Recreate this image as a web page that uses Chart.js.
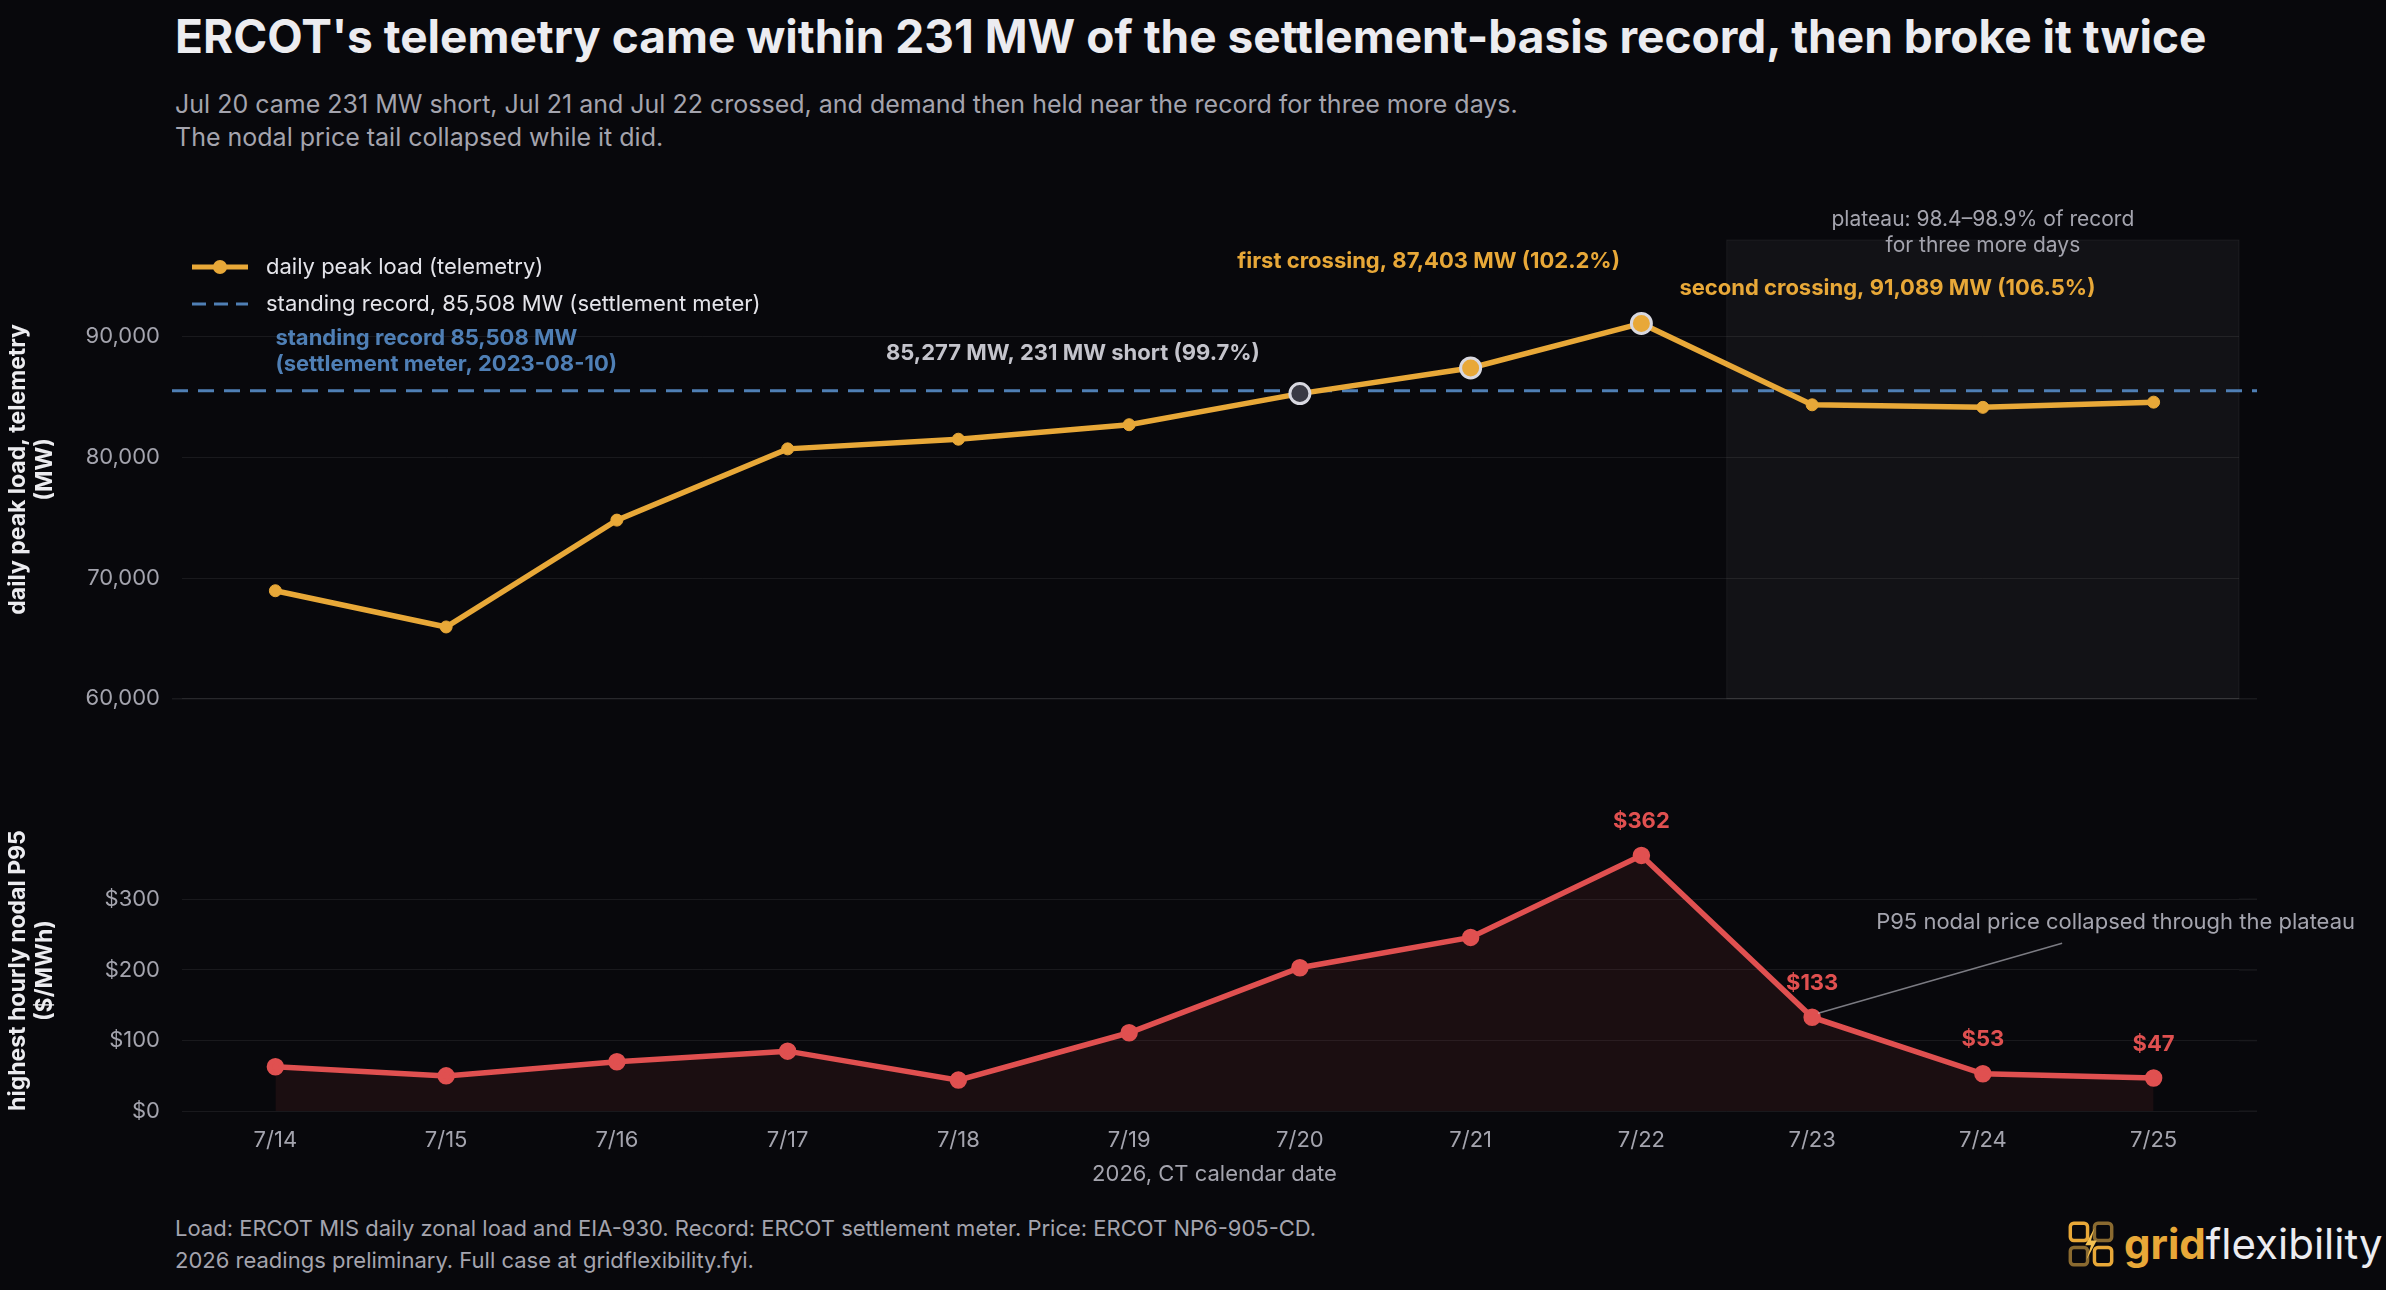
<!DOCTYPE html>
<html>
<head>
<meta charset="utf-8">
<script src="https://cdn.jsdelivr.net/npm/chart.js@4"></script>
<style>
  body { margin: 0; background: #08080c; width: 2386px; height: 1290px; overflow: hidden; font-family: Inter, sans-serif; }
  .abs { position: absolute; }
  #title { left: 175px; top: 8px; color: #ececf0; font-size: 46px; font-weight: 700; }
  #sub { left: 175px; top: 88px; color: #a4a4ae; font-size: 25px; line-height: 33px; }
  #foot { left: 175px; top: 1212px; color: #a4a4ae; font-size: 22px; line-height: 32px; }
  #logo { left: 2068px; top: 1218px; font-size: 42px; display: flex; align-items: center; }
</style>
</head>
<body>
<div id="title" class="abs">ERCOT's telemetry came within 231 MW of the settlement-basis record, then broke it twice</div>
<div id="sub" class="abs">Jul 20 came 231 MW short, Jul 21 and Jul 22 crossed, and demand then held near the record for three more days.<br>The nodal price tail collapsed while it did.</div>
<div class="abs" style="left:0;top:200px;width:2386px;height:534px"><canvas id="load"></canvas></div>
<div class="abs" style="left:0;top:790px;width:2386px;height:400px"><canvas id="price"></canvas></div>
<div id="foot" class="abs">Load: ERCOT MIS daily zonal load and EIA-930. Record: ERCOT settlement meter. Price: ERCOT NP6-905-CD.<br>2026 readings preliminary. Full case at gridflexibility.fyi.</div>
<div id="logo" class="abs">
  <svg width="46" height="46" viewBox="0 0 40 40" style="margin-right:10px">
    <rect x="2" y="2" width="15" height="15" rx="3" fill="none" stroke="#e8a838" stroke-width="3"/>
    <rect x="23" y="2" width="15" height="15" rx="3" fill="none" stroke="#8a6a30" stroke-width="3"/>
    <rect x="2" y="23" width="15" height="15" rx="3" fill="none" stroke="#8a6a30" stroke-width="3"/>
    <rect x="23" y="23" width="15" height="15" rx="3" fill="none" stroke="#e8a838" stroke-width="3"/>
    <path d="M23 6 L15 21 L20 21 L16 34 L25 17 L20 17 Z" fill="#f4c050"/>
  </svg>
  <span style="color:#e8a838;font-weight:700">grid</span><span style="color:#ececf0">flexibility</span>
</div>
<script>
const days = ['7/14', '7/15', '7/16', '7/17', '7/18', '7/19', '7/20', '7/21', '7/22', '7/23', '7/24', '7/25'];
const peakLoad = [68950, 65950, 74800, 80700, 81500, 82700, 85277, 87403, 91089, 84350, 84140, 84570];
const recordMW = 85508;
const p95Price = [63, 50, 70, 85, 44, 111, 203, 246, 362, 133, 53, 47];
const loadTicks = [60000, 70000, 80000, 90000];
const priceTicks = [0, 100, 200, 300];

const ORANGE = '#e8a838', BLUE = '#4f7fb5', RED = '#e05050', GRAY = '#a4a4ae';
const GRID = 'rgba(255,255,255,0.07)';
const EXT = 18;
Chart.defaults.font.family = 'Inter, sans-serif';
Chart.defaults.color = GRAY;

function keepTicks(list) {
  return function (scale) { scale.ticks = list.map(v => ({ value: v })); };
}
function fixWidth(scale) { scale.width = 190; }

function txt(ctx, s, x, y, color, size, weight, align) {
  ctx.save();
  ctx.fillStyle = color;
  ctx.font = (weight || 400) + ' ' + size + 'px Inter, sans-serif';
  ctx.textAlign = align || 'left';
  ctx.textBaseline = 'middle';
  ctx.fillText(s, x, y);
  ctx.restore();
}

const loadDecor = {
  id: 'loadDecor',
  beforeDatasetsDraw(chart) {
    const { ctx, chartArea: a, scales: { x, y } } = chart;
    const x0 = (x.getPixelForValue(8) + x.getPixelForValue(9)) / 2;
    const x1 = a.right;
    ctx.save();
    ctx.fillStyle = 'rgba(255,255,255,0.045)';
    ctx.fillRect(x0, a.top, x1 - x0, a.bottom - a.top);
    ctx.strokeStyle = 'rgba(255,255,255,0.06)';
    ctx.strokeRect(x0, a.top, x1 - x0, a.bottom - a.top);
    const ry = y.getPixelForValue(recordMW);
    ctx.strokeStyle = BLUE; ctx.lineWidth = 3; ctx.setLineDash([16, 10]);
    ctx.beginPath(); ctx.moveTo(a.left - EXT, ry); ctx.lineTo(a.right + EXT, ry); ctx.stroke();
    ctx.restore();
    txt(ctx, 'plateau: 98.4–98.9% of record', (x0 + x1) / 2, a.top - 20, GRAY, 21, 400, 'center');
    txt(ctx, 'for three more days', (x0 + x1) / 2, a.top + 6, GRAY, 21, 400, 'center');
  },
  afterDatasetsDraw(chart) {
    const { ctx, chartArea: a, scales: { x, y } } = chart;
    const px = i => x.getPixelForValue(i), py = v => y.getPixelForValue(v);
    txt(ctx, 'standing record 85,508 MW', px(0), py(recordMW) - 52, BLUE, 22, 700);
    txt(ctx, '(settlement meter, 2023-08-10)', px(0), py(recordMW) - 26, BLUE, 22, 700);
    txt(ctx, '85,277 MW, 231 MW short (99.7%)', px(6) - 40, py(peakLoad[6]) - 40, '#c4c4cc', 22, 700, 'right');
    txt(ctx, 'first crossing, 87,403 MW (102.2%)', px(7) - 42, py(peakLoad[7]) - 107, ORANGE, 22, 700, 'center');
    txt(ctx, 'second crossing, 91,089 MW (106.5%)', px(8) + 38, py(peakLoad[8]) - 35, ORANGE, 22, 700);
    // legend
    const lx = a.left + 2, ly = a.top + 27;
    ctx.save();
    ctx.strokeStyle = ORANGE; ctx.lineWidth = 5;
    ctx.beginPath(); ctx.moveTo(lx, ly); ctx.lineTo(lx + 56, ly); ctx.stroke();
    ctx.fillStyle = ORANGE; ctx.beginPath(); ctx.arc(lx + 28, ly, 7, 0, Math.PI * 2); ctx.fill();
    ctx.strokeStyle = BLUE; ctx.lineWidth = 3; ctx.setLineDash([14, 8]);
    ctx.beginPath(); ctx.moveTo(lx, ly + 37); ctx.lineTo(lx + 56, ly + 37); ctx.stroke();
    ctx.restore();
    txt(ctx, 'daily peak load (telemetry)', lx + 74, ly, '#e4e4ea', 22);
    txt(ctx, 'standing record, 85,508 MW (settlement meter)', lx + 74, ly + 37, '#e4e4ea', 22);
  },
  afterDraw(chart) {
    const { ctx, chartArea: a } = chart;
    ctx.save();
    ctx.strokeStyle = GRID; ctx.lineWidth = 1.5;
    ctx.beginPath(); ctx.moveTo(a.left - EXT, a.bottom); ctx.lineTo(a.right + EXT, a.bottom); ctx.stroke();
    ctx.restore();
  }
};

new Chart(document.getElementById('load'), {
  type: 'line',
  data: {
    labels: days,
    datasets: [{
      data: peakLoad,
      borderColor: ORANGE,
      borderWidth: 5.5,
      pointBackgroundColor: peakLoad.map((v, i) => i === 6 ? '#3a3a44' : ORANGE),
      pointBorderColor: peakLoad.map((v, i) => i >= 6 && i <= 8 ? '#d8d8e0' : ORANGE),
      pointBorderWidth: peakLoad.map((v, i) => i >= 6 && i <= 8 ? 3 : 1),
      pointRadius: peakLoad.map((v, i) => i >= 6 && i <= 8 ? 10 : 6),
      tension: 0
    }]
  },
  options: {
    responsive: true, maintainAspectRatio: false, animation: false,
    layout: { padding: { top: 40, right: 147, bottom: 0 } },
    plugins: { legend: { display: false }, tooltip: { enabled: false } },
    scales: {
      x: {
        offset: true,
        ticks: { display: false },
        grid: { display: false, tickLength: 10 },
        border: { display: false }
      },
      y: {
        min: 60000, max: 98000,
        afterBuildTicks: keepTicks(loadTicks),
        afterFit: fixWidth,
        ticks: { color: GRAY, font: { size: 22 }, padding: 22, callback: v => v.toLocaleString('en-US') },
        grid: { color: GRID },
        border: { display: false },
        title: { display: true, text: ['daily peak load, telemetry', '(MW)'], color: '#ececf0', font: { size: 23, weight: 700 }, padding: 4 }
      }
    }
  },
  plugins: [loadDecor]
});

const priceDecor = {
  id: 'priceDecor',
  afterDatasetsDraw(chart) {
    const { ctx, scales: { x, y } } = chart;
    [8, 9, 10, 11].forEach(i => {
      txt(ctx, '$' + p95Price[i], x.getPixelForValue(i), y.getPixelForValue(p95Price[i]) - 34, RED, 22, 700, 'center');
    });
    const bx = x.getPixelForValue(9), by = y.getPixelForValue(p95Price[9]);
    ctx.save();
    ctx.strokeStyle = 'rgba(200,200,210,0.6)'; ctx.lineWidth = 1.5;
    ctx.beginPath(); ctx.moveTo(bx + 6, by - 4); ctx.lineTo(bx + 250, by - 74); ctx.stroke();
    ctx.restore();
    txt(ctx, 'P95 nodal price collapsed through the plateau', bx + 64, by - 95, GRAY, 22);
  },
  afterDraw(chart) {
    const { ctx, chartArea: a, scales: { y } } = chart;
    ctx.save();
    ctx.strokeStyle = GRID; ctx.lineWidth = 1.5;
    priceTicks.forEach(v => {
      const yy = y.getPixelForValue(v);
      ctx.beginPath(); ctx.moveTo(a.right, yy); ctx.lineTo(a.right + EXT, yy); ctx.stroke();
    });
    ctx.restore();
  }
};

new Chart(document.getElementById('price'), {
  type: 'line',
  data: {
    labels: days,
    datasets: [{
      data: p95Price,
      borderColor: RED,
      borderWidth: 5.5,
      backgroundColor: 'rgba(224,80,80,0.09)',
      fill: 'origin',
      pointBackgroundColor: RED,
      pointBorderColor: RED,
      pointRadius: 6,
      tension: 0
    }]
  },
  options: {
    responsive: true, maintainAspectRatio: false, animation: false,
    layout: { padding: { top: 40, right: 147 } },
    plugins: { legend: { display: false }, tooltip: { enabled: false } },
    scales: {
      x: {
        offset: true,
        ticks: { color: GRAY, font: { size: 22 }, padding: 6 },
        grid: { display: false, tickLength: 10 },
        border: { display: false },
        title: { display: true, text: '2026, CT calendar date', color: GRAY, font: { size: 22 }, padding: 2 }
      },
      y: {
        min: 0, max: 398,
        afterBuildTicks: keepTicks(priceTicks),
        afterFit: fixWidth,
        ticks: { color: GRAY, font: { size: 22 }, padding: 22, callback: v => '$' + v },
        grid: { color: GRID },
        border: { display: false },
        title: { display: true, text: ['highest hourly nodal P95', '($/MWh)'], color: '#ececf0', font: { size: 23, weight: 700 }, padding: 4 }
      }
    }
  },
  plugins: [priceDecor]
});
</script>
</body>
</html>
